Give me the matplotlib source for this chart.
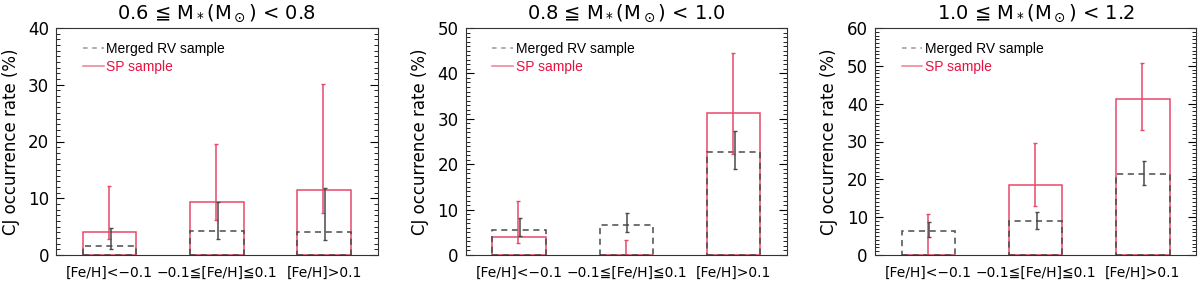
import matplotlib.pyplot as plt
from matplotlib.lines import Line2D
import numpy as np

# metallicity bins
categories = ['[Fe/H]<−0.1', '−0.1≦[Fe/H]≦0.1', '[Fe/H]>0.1']
titles = ['0.6 ≦ M$_*$(M$_\\odot$) < 0.8',
          '0.8 ≦ M$_*$(M$_\\odot$) < 1.0',
          '1.0 ≦ M$_*$(M$_\\odot$) < 1.2']
ymax = [40, 50, 60]

# SP sample: rate, lower error end, upper error end (%)
sp_rate = [[4.0, 9.3, 11.4], [3.9, 0.0, 31.3], [0.0, 18.6, 41.3]]
sp_lo = [[2.8, 6.2, 7.4], [2.6, 0.0, 22.3], [0.0, 13.0, 33.1]]
sp_hi = [[12.2, 19.6, 30.1], [11.9, 3.2, 44.6], [10.8, 29.5, 50.7]]

# Merged RV sample
rv_rate = [[1.5, 4.3, 4.0], [5.6, 6.5, 22.7], [6.3, 8.9, 21.4]]
rv_lo = [[1.05, 2.8, 2.6], [4.1, 5.0, 18.9], [4.8, 7.0, 18.6]]
rv_hi = [[4.75, 9.3, 11.8], [8.1, 9.2, 27.4], [8.6, 11.4, 24.8]]

red = '#e8486a'
gray = '#4a4a4a'
dash = (0, (4, 3))

fig = plt.figure(figsize=(12, 2.83), dpi=100)
lefts = [0.0467, 0.388, 0.729]
x = np.arange(3)

for i in range(3):
    ax = fig.add_axes([lefts[i], 0.099, 0.268, 0.802])
    ax.bar(x, sp_rate[i], width=0.5, fill=False, edgecolor=red, linewidth=1.1)
    ax.bar(x, rv_rate[i], width=0.5, fill=False, edgecolor=gray, linewidth=1.1,
           linestyle=dash)
    sr = np.array(sp_rate[i]); rr = np.array(rv_rate[i])
    ax.errorbar(x - 0.008, sr, yerr=[sr - np.array(sp_lo[i]), np.array(sp_hi[i]) - sr],
                fmt='none', ecolor=red, elinewidth=1.1, capsize=1.5, capthick=1)
    ax.errorbar(x + 0.01, rr, yerr=[rr - np.array(rv_lo[i]), np.array(rv_hi[i]) - rr],
                fmt='none', ecolor=gray, elinewidth=1.1, capsize=1.5, capthick=1)

    ax.set_xlim(-0.5, 2.5)
    ax.set_ylim(0, ymax[i])
    ax.set_xticks(x)
    ax.set_xticklabels(categories, fontsize=10)
    ax.set_yticks(np.arange(0, ymax[i] + 1, 10))
    ax.set_yticks(np.arange(0, ymax[i] + 1, 1), minor=True)
    ax.tick_params(axis='x', length=0, pad=8)
    ax.tick_params(axis='y', which='major', direction='in', length=6, right=True,
                   labelsize=12, pad=5)
    ax.tick_params(axis='y', which='minor', direction='in', length=3, right=True)
    ax.set_ylabel('CJ occurrence rate (%)', fontsize=12, labelpad=6)
    ax.set_title(titles[i], fontsize=14, pad=7)
    for s in ax.spines.values():
        s.set_color('#333333')

    handles = [Line2D([], [], color='#999999', linestyle=(0, (3, 3)), linewidth=1.1),
               Line2D([], [], color='#f08090', linewidth=1.1)]
    leg = ax.legend(handles, ['Merged RV sample', 'SP sample'], loc='upper left',
                    frameon=False, prop={'family': 'Liberation Sans', 'size': 10},
                    handlelength=1.5, handletextpad=0.2, labelspacing=0.3,
                    borderaxespad=0.6, bbox_to_anchor=(0.04, 1.0))
    leg.get_texts()[0].set_color('black')
    leg.get_texts()[1].set_color('#e8103f')

fig.savefig('out.png', dpi=100)
